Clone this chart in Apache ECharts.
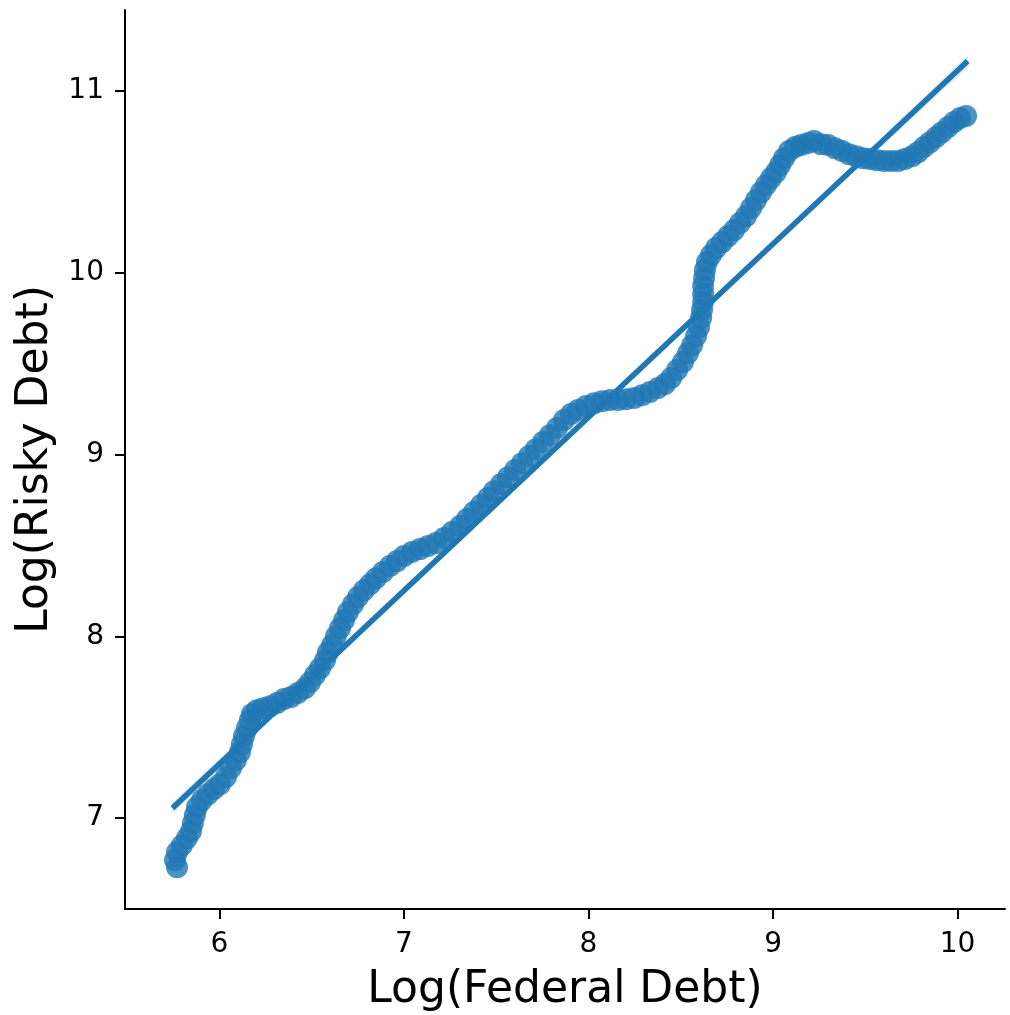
<!DOCTYPE html>
<html>
<head>
<meta charset="utf-8">
<style>
  html, body { margin: 0; padding: 0; background: #ffffff; }
  #chart { width: 1010px; height: 1015px; }
</style>
<script src="https://cdn.jsdelivr.net/npm/echarts@6/dist/echarts.min.js"></script>
</head>
<body>
<div id="chart"></div>
<script>
// Log federal debt vs. log risky debt, one point per observation, in time order
const fedDebt = [5.770,5.759,5.770,5.797,5.824,5.846,5.856,5.867,5.878,5.905,5.938,5.970,6.003,6.035,6.062,6.089,6.111,6.122,6.133,6.149,6.165,6.176,6.203,6.236,6.274,6.312,6.350,6.388,6.425,6.463,6.491,6.518,6.545,6.572,6.588,6.610,6.631,6.653,6.675,6.696,6.724,6.751,6.783,6.816,6.848,6.886,6.924,6.962,7.000,7.043,7.087,7.130,7.173,7.217,7.260,7.304,7.341,7.379,7.417,7.455,7.488,7.526,7.564,7.602,7.640,7.678,7.715,7.753,7.791,7.829,7.867,7.905,7.943,7.986,8.030,8.073,8.117,8.160,8.203,8.247,8.290,8.333,8.377,8.415,8.447,8.480,8.512,8.539,8.561,8.583,8.599,8.610,8.615,8.621,8.621,8.621,8.626,8.631,8.642,8.664,8.691,8.724,8.756,8.789,8.821,8.854,8.881,8.908,8.935,8.962,8.989,9.016,9.038,9.060,9.087,9.119,9.152,9.190,9.222,9.260,9.298,9.336,9.374,9.412,9.450,9.488,9.526,9.564,9.602,9.640,9.678,9.715,9.753,9.786,9.818,9.851,9.884,9.916,9.949,9.981,10.014,10.046];
const riskyDebt = [6.730,6.769,6.813,6.851,6.890,6.928,6.972,7.017,7.061,7.099,7.132,7.160,7.187,7.226,7.275,7.319,7.363,7.407,7.451,7.495,7.539,7.572,7.594,7.605,7.616,7.633,7.655,7.666,7.688,7.715,7.748,7.787,7.825,7.869,7.913,7.952,8.001,8.045,8.089,8.133,8.177,8.216,8.254,8.287,8.320,8.354,8.387,8.414,8.442,8.464,8.480,8.497,8.513,8.541,8.574,8.607,8.645,8.684,8.722,8.761,8.799,8.838,8.876,8.915,8.953,8.992,9.030,9.069,9.107,9.146,9.190,9.223,9.245,9.267,9.283,9.294,9.300,9.300,9.305,9.311,9.327,9.344,9.366,9.388,9.421,9.465,9.509,9.558,9.602,9.652,9.701,9.751,9.795,9.839,9.883,9.927,9.971,10.015,10.059,10.098,10.136,10.169,10.202,10.235,10.274,10.312,10.356,10.400,10.444,10.483,10.521,10.554,10.593,10.631,10.670,10.692,10.703,10.714,10.725,10.708,10.703,10.686,10.670,10.653,10.642,10.631,10.626,10.620,10.615,10.615,10.615,10.626,10.642,10.664,10.692,10.719,10.747,10.774,10.802,10.830,10.852,10.863];

// Fitted regression line (end points) and half-width of its confidence band
const fitX = [5.745, 10.055];
const fitY = [7.055, 11.165];
const ciX = [5.745, 6.3, 7.0, 7.8, 8.6, 9.4, 10.055];
const ciHalf = [0.032, 0.020, 0.011, 0.008, 0.011, 0.020, 0.034];

// Axis ticks
const xTicks = [6, 7, 8, 9, 10];
const yTicks = [7, 8, 9, 10, 11];

const BLUE = '#1f77b4';
const FONT = 'DejaVu Sans';

const n = Math.min(fedDebt.length, riskyDebt.length);
const points = [];
for (let i = 0; i < n; i++) points.push([fedDebt[i], riskyDebt[i]]);

const slope = (fitY[1] - fitY[0]) / (fitX[1] - fitX[0]);
const fitAt = x => fitY[0] + slope * (x - fitX[0]);
// Band outline: upper edge left to right, then lower edge back
const bandOutline = ciX.map((x, i) => [x, fitAt(x) + ciHalf[i]])
  .concat(ciX.map((x, i) => [x, fitAt(x) - ciHalf[i]]).reverse());

const axisCommon = {
  type: 'value',
  axisLine: { show: true, onZero: false, lineStyle: { color: '#000', width: 2 } },
  axisTick: { show: true, inside: false, length: 10, lineStyle: { color: '#000', width: 2 } },
  splitLine: { show: false },
  nameTextStyle: { fontFamily: FONT, fontSize: 44, color: '#000' }
};

const chart = echarts.init(document.getElementById('chart'), null, { renderer: 'canvas' });
chart.setOption({
  animation: false,
  backgroundColor: '#ffffff',
  grid: { left: 125, right: 5, top: 10, bottom: 106, containLabel: false, outerBoundsMode: 'none' },
  xAxis: Object.assign({}, axisCommon, {
    min: 5.488, max: 10.257,
    name: 'Log(Federal Debt)', nameLocation: 'middle', nameGap: 60,
    axisTick: Object.assign({}, axisCommon.axisTick, { customValues: xTicks }),
    axisLabel: { customValues: xTicks, margin: 22, fontFamily: FONT, fontSize: 28, color: '#000' }
  }),
  yAxis: Object.assign({}, axisCommon, {
    min: 6.5, max: 11.446,
    name: 'Log(Risky Debt)', nameLocation: 'middle', nameGap: 63, nameRotate: 90,
    axisTick: Object.assign({}, axisCommon.axisTick, { customValues: yTicks }),
    axisLabel: { customValues: yTicks, margin: 21, fontFamily: FONT, fontSize: 28, color: '#000' }
  }),
  series: [
    {
      type: 'scatter',
      data: points,
      symbol: 'circle',
      symbolSize: 22,
      itemStyle: { color: BLUE, opacity: 0.8 },
      z: 2,
      silent: true
    },
    {
      type: 'custom',
      data: [0],
      z: 3,
      silent: true,
      renderItem: function (params, api) {
        return {
          type: 'polygon',
          shape: { points: bandOutline.map(p => api.coord(p)) },
          style: { fill: 'rgba(31,119,180,0.15)' }
        };
      }
    },
    {
      type: 'line',
      data: fitX.map((x, i) => [x, fitY[i]]),
      showSymbol: false,
      lineStyle: { color: BLUE, width: 5.5 },
      z: 4,
      silent: true
    }
  ]
});
</script>
</body>
</html>
